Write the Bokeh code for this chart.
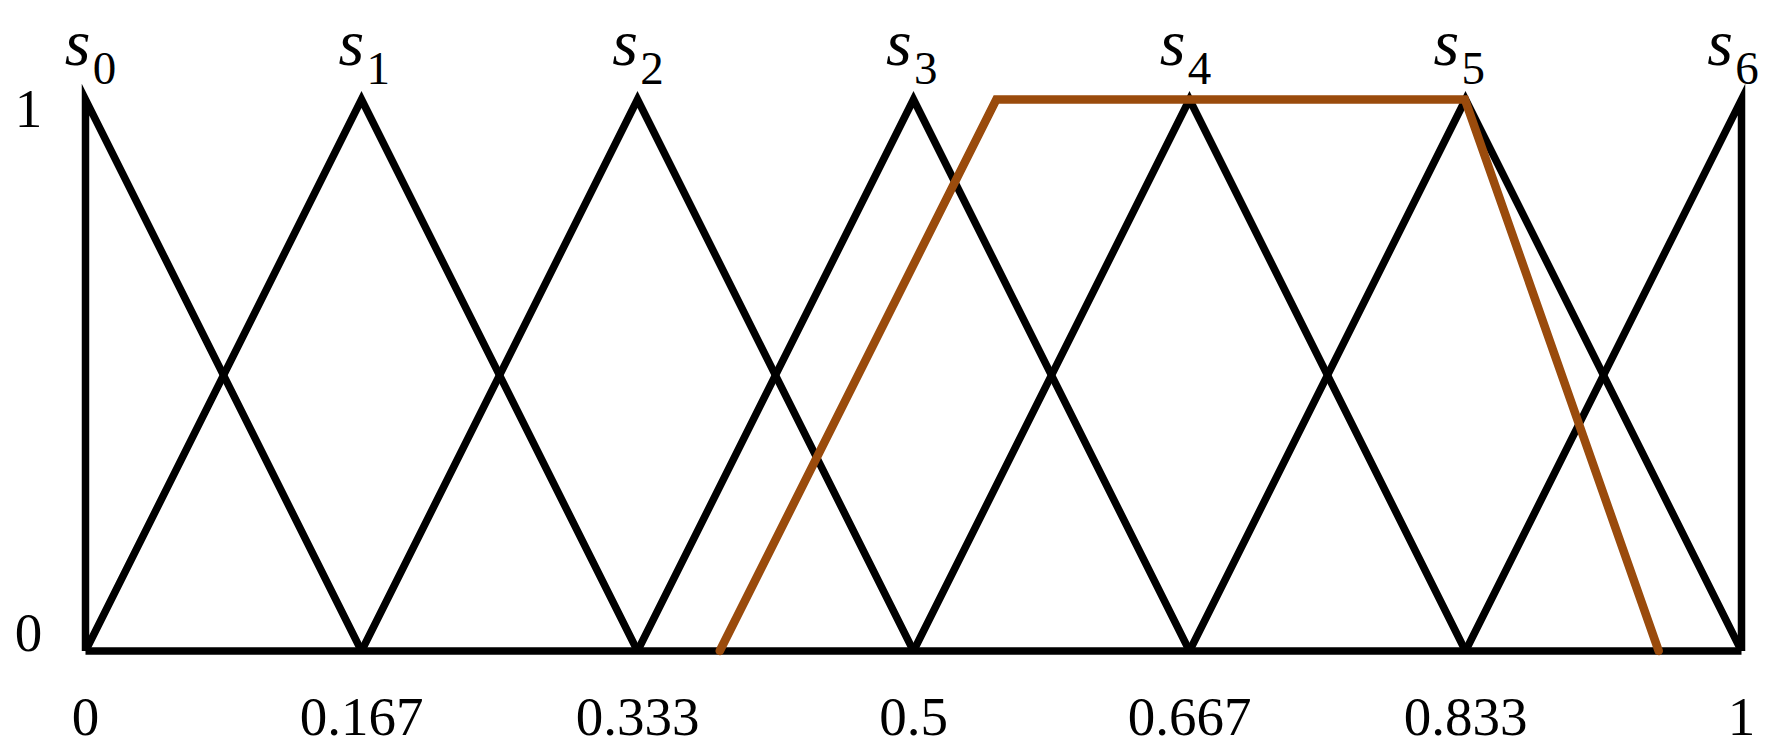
from bokeh.plotting import figure
from bokeh.models import ColumnDataSource
from bokeh.core.properties import value
from bokeh.embed import file_html
from bokeh.resources import INLINE

# ---- data ----
peaks = [0, 1/6, 2/6, 3/6, 4/6, 5/6, 1]
term_index = ["0", "1", "2", "3", "4", "5", "6"]
x_tick_labels = ["0", "0.167", "0.333", "0.5", "0.667", "0.833", "1"]
y_tick_values = [0, 1]
y_tick_labels = ["0", "1"]
trap_x = [0.383, 0.55, 0.833, 0.95]
trap_y = [0, 1, 1, 0]

# ---- layout ----
W, H = 1764, 746
sx = 1656.0          # px per unit x
sy = 551.5           # px per unit y
x0_px = 85.0         # x=0 inside canvas
y1_px = 99.0         # y=1 inside canvas (from top)
xs = -x0_px / sx
xe = xs + W / sx
ye = 1 + y1_px / sy
ys = ye - H / sy
BL = 0.37            # baseline compensation (em) for svg text
S_FS = 66            # font size of the italic "s"

p = figure(width=W, height=H, x_range=(xs, xe), y_range=(ys, ye),
           x_axis_type=None, y_axis_type=None, toolbar_location=None,
           output_backend="svg", min_border=0, outline_line_color=None)
p.grid.visible = False
p.background_fill_color = "white"
p.border_fill_color = "white"

BLACK = "black"
LW = 7.5

# triangular membership functions
n = len(peaks)
for k in range(n):
    if k == 0:
        xs_k = [peaks[0], peaks[0], peaks[1]]
    elif k == n - 1:
        xs_k = [peaks[n - 2], peaks[n - 1], peaks[n - 1]]
    else:
        xs_k = [peaks[k - 1], peaks[k], peaks[k + 1]]
    ys_k = [0, 1, 0]
    p.line(xs_k, ys_k, line_color=BLACK, line_width=LW, line_join="miter")

# baseline
p.line([peaks[0], peaks[-1]], [0, 0], line_color=BLACK, line_width=LW)

# trapezoid
p.line(trap_x, trap_y, line_color="#9A4B0C", line_width=8.5,
       line_join="miter", line_cap="round")

SERIF = value("Liberation Serif")

# x tick labels
p.text(x=peaks, y=[0] * n, text=x_tick_labels, text_align="center",
       text_baseline="alphabetic", y_offset=86.5 - BL * 55, text_font=SERIF,
       text_font_size="55px", text_color="black")

# y tick labels
y_offs = [2, 30]
for v, lab, yo in zip(y_tick_values, y_tick_labels, y_offs):
    p.text(x=[0], y=[v], text=[lab], text_align="center",
           text_baseline="alphabetic", x_offset=-57, y_offset=yo - BL * 55,
           text_font=SERIF, text_font_size="55px", text_color="black")

# term labels s_k
s_src = ColumnDataSource(dict(x=peaks, y=[1] * n, t=["s"] * n,
                              xo=[-8 - 13.5 * v for v in peaks],
                              xo2=[19 - 13.5 * v for v in peaks],
                              sub=term_index))
p.text(x="x", y="y", text="t", source=s_src, x_offset="xo",
       y_offset=-33 - BL * S_FS,
       text_align="center", text_baseline="alphabetic", text_font=SERIF,
       text_font_style="italic", text_font_size=f"{S_FS}px", text_color="black")
p.text(x="x", y="y", text="sub", source=s_src, x_offset="xo2",
       y_offset=-14 - BL * 47,
       text_align="center", text_baseline="alphabetic", text_font=SERIF,
       text_font_size="47px", text_color="black")

open("out.html", "w").write(file_html(p, INLINE))
